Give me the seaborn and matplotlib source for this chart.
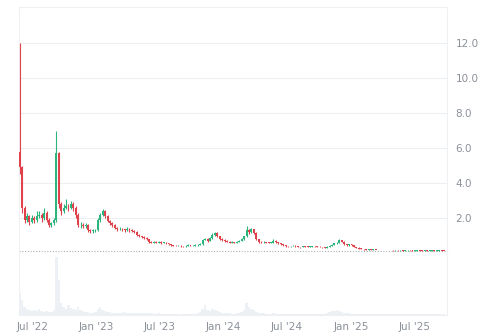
import numpy as np
import pandas as pd
import matplotlib
matplotlib.use("Agg")
import matplotlib.pyplot as plt
import matplotlib.dates as mdates
import seaborn as sns

# ---- data (weekly candles) ----
start_date = "2022-05-26"
first_open = 5.8
closes = [
    4.9, 2.6, 1.9, 2.1, 1.8, 2.0, 1.9, 2.1, 2.2, 2.0,
    2.3, 1.9, 1.6, 1.7, 1.9, 5.7, 2.8, 2.4, 2.6, 2.7,
    2.6, 2.8, 2.6, 2.2, 1.6, 1.6, 1.55, 1.6, 1.3, 1.25,
    1.3, 1.3, 1.9, 2.2, 2.4, 2.1, 1.85, 1.7, 1.6, 1.45,
    1.35, 1.4, 1.35, 1.3, 1.4, 1.3, 1.25, 1.2, 1.05, 0.95,
    0.9, 0.85, 0.8, 0.65, 0.6, 0.62, 0.6, 0.65, 0.58, 0.6,
    0.55, 0.5, 0.45, 0.42, 0.4, 0.42, 0.4, 0.38, 0.42, 0.45,
    0.4, 0.42, 0.45, 0.48, 0.5, 0.75, 0.8, 0.7, 0.85, 1.05,
    1.15, 0.95, 0.8, 0.75, 0.7, 0.65, 0.6, 0.62, 0.6, 0.65,
    0.7, 0.8, 0.95, 1.3, 1.2, 1.35, 1.15, 0.8, 0.65, 0.62,
    0.62, 0.6, 0.58, 0.6, 0.7, 0.62, 0.55, 0.5, 0.45, 0.4,
    0.38, 0.4, 0.42, 0.38, 0.35, 0.33, 0.38, 0.36, 0.35, 0.37,
    0.4, 0.38, 0.36, 0.34, 0.32, 0.3, 0.35, 0.42, 0.48, 0.55,
    0.6, 0.72, 0.65, 0.5, 0.45, 0.5, 0.45, 0.35, 0.3, 0.25,
    0.24, 0.22, 0.2, 0.2, 0.18, 0.19, 0.18, 0.17, 0.16, 0.17,
    0.18, 0.17, 0.16, 0.15, 0.16, 0.15, 0.15, 0.14, 0.15, 0.16,
    0.15, 0.14, 0.14, 0.15, 0.14, 0.13, 0.14, 0.13, 0.13, 0.14,
    0.13, 0.13, 0.14, 0.13, 0.12,
]
highs = [
    12.0, 5.0, 2.7, 2.3, 2.2, 2.2, 2.1, 2.4, 2.4, 2.3,
    2.6, 2.4, 2.0, 1.8, 2.0, 7.0, 5.8, 2.9, 2.8, 3.1,
    2.8, 3.0, 2.9, 2.7, 2.3, 1.75, 1.7, 1.7, 1.65, 1.4,
    1.4, 1.4, 2.0, 2.3, 2.5, 2.45, 2.15, 1.9, 1.75, 1.65,
    1.5, 1.5, 1.45, 1.4, 1.5, 1.45, 1.35, 1.3, 1.25, 1.1,
    1.0, 0.95, 0.9, 0.82, 0.7, 0.7, 0.68, 0.7, 0.68, 0.66,
    0.64, 0.58, 0.52, 0.48, 0.45, 0.46, 0.45, 0.43, 0.46, 0.5,
    0.47, 0.46, 0.5, 0.52, 0.56, 0.82, 0.88, 0.85, 0.9, 1.12,
    1.22, 1.18, 0.98, 0.84, 0.78, 0.73, 0.68, 0.67, 0.66, 0.7,
    0.75, 0.85, 1.0, 1.55, 1.4, 1.42, 1.4, 1.18, 0.82, 0.7,
    0.67, 0.66, 0.63, 0.64, 0.78, 0.72, 0.64, 0.57, 0.52, 0.47,
    0.42, 0.43, 0.46, 0.44, 0.4, 0.37, 0.41, 0.4, 0.38, 0.4,
    0.43, 0.42, 0.4, 0.38, 0.36, 0.34, 0.38, 0.46, 0.52, 0.6,
    0.65, 0.78, 0.75, 0.67, 0.53, 0.54, 0.52, 0.47, 0.37, 0.32,
    0.27, 0.26, 0.24, 0.22, 0.21, 0.21, 0.2, 0.19, 0.18, 0.19,
    0.2, 0.19, 0.18, 0.17, 0.18, 0.17, 0.17, 0.16, 0.17, 0.18,
    0.17, 0.16, 0.16, 0.17, 0.16, 0.15, 0.16, 0.15, 0.15, 0.16,
    0.15, 0.15, 0.16, 0.15, 0.14,
]
lows = [
    4.5, 2.3, 1.7, 1.8, 1.6, 1.7, 1.7, 1.8, 2.0, 1.8,
    1.9, 1.8, 1.5, 1.5, 1.6, 1.8, 2.6, 2.2, 2.3, 2.5,
    2.4, 2.5, 2.4, 2.0, 1.5, 1.45, 1.45, 1.45, 1.2, 1.15,
    1.15, 1.2, 1.25, 1.8, 2.1, 2.0, 1.75, 1.6, 1.5, 1.35,
    1.28, 1.3, 1.28, 1.22, 1.25, 1.22, 1.18, 1.12, 1.0, 0.9,
    0.85, 0.8, 0.75, 0.6, 0.56, 0.57, 0.56, 0.57, 0.54, 0.55,
    0.52, 0.47, 0.43, 0.4, 0.38, 0.38, 0.37, 0.36, 0.37, 0.41,
    0.38, 0.38, 0.4, 0.43, 0.46, 0.48, 0.72, 0.66, 0.68, 0.82,
    1.0, 0.9, 0.76, 0.7, 0.66, 0.62, 0.57, 0.58, 0.57, 0.58,
    0.63, 0.68, 0.77, 0.9, 1.1, 1.15, 1.1, 0.75, 0.6, 0.58,
    0.58, 0.56, 0.55, 0.56, 0.58, 0.58, 0.52, 0.47, 0.42, 0.37,
    0.35, 0.36, 0.38, 0.36, 0.33, 0.31, 0.32, 0.34, 0.33, 0.34,
    0.36, 0.36, 0.34, 0.32, 0.3, 0.28, 0.29, 0.34, 0.41, 0.47,
    0.53, 0.58, 0.62, 0.47, 0.42, 0.43, 0.42, 0.33, 0.28, 0.23,
    0.22, 0.2, 0.18, 0.18, 0.16, 0.17, 0.16, 0.15, 0.15, 0.15,
    0.16, 0.16, 0.15, 0.14, 0.14, 0.14, 0.14, 0.13, 0.13, 0.14,
    0.14, 0.13, 0.13, 0.13, 0.13, 0.12, 0.12, 0.12, 0.12, 0.12,
    0.12, 0.12, 0.12, 0.12, 0.11,
]
volumes = [
    22, 15, 8, 6, 5, 4, 5, 4, 6, 4,
    3, 4, 3, 3, 5, 58, 35, 12, 8, 6,
    10, 7, 6, 5, 8, 5, 4, 3, 3, 2.5,
    2.5, 3, 6, 8, 5, 4, 3, 3, 2.5, 2.5,
    2, 2, 2, 3, 2, 2, 2, 2, 2.5, 2,
    2, 2, 2.5, 2, 2, 1.5, 1.5, 2, 1.5, 1.5,
    1.5, 1.5, 1.5, 1.5, 1.5, 1.5, 1.5, 1.5, 1.5, 1.5,
    1.5, 1.5, 1.5, 2, 3, 6, 10, 5, 4, 6,
    5, 4, 3, 2, 2, 2, 2, 1.5, 1.5, 2,
    2, 3, 5, 12, 8, 6, 5, 3, 2, 2,
    2, 1.5, 1.5, 1.5, 2, 1.5, 1.5, 1.5, 1.5, 1.5,
    1.5, 1.5, 1.5, 1.5, 1.5, 1.5, 1.5, 1.5, 1.5, 1.5,
    1.5, 1.5, 1.5, 1.5, 1.5, 1.5, 2, 3, 4, 4,
    5, 4, 3, 2, 2, 2, 1.5, 1.5, 1.5, 1,
    1, 1, 1, 1, 1, 1, 1, 1, 1, 1,
    1, 1, 1, 1, 1, 1, 1, 1, 1, 1,
    1, 1, 1, 1, 1, 1, 1, 1, 1, 1,
    1, 1, 1, 1, 1,
]
price_ticks = [2.0, 4.0, 6.0, 8.0, 10.0, 12.0]
date_ticks = ["2022-07-01", "2023-01-01", "2023-07-01", "2024-01-01",
              "2024-07-01", "2025-01-01", "2025-07-01"]
date_tick_labels = ["Jul '22", "Jan '23", "Jul '23", "Jan '24",
                    "Jul '24", "Jan '25", "Jul '25"]

n = min(len(closes), len(highs), len(lows), len(volumes))
closes, highs, lows, volumes = closes[:n], highs[:n], lows[:n], volumes[:n]
opens = [first_open] + closes[:-1]
dates = pd.date_range(start_date, periods=n, freq="7D")
df = pd.DataFrame({"date": dates, "open": opens, "high": highs,
                   "low": lows, "close": closes, "volume": volumes})
df["dir"] = np.where(df["close"] >= df["open"], "up", "down")

# ---- style ----
sns.set_theme(style="white")
plt.rcParams["font.family"] = ["DejaVu Sans"]
GREEN = "#2bb47c"
RED = "#e0424c"
GRID = "#eceef1"
FRAME = "#eef0f3"
TXT = "#8b9099"

fig = plt.figure(figsize=(5.0, 3.33), dpi=100)
ax = fig.add_axes([0.038, 0.240, 0.856, 0.739])
axv = fig.add_axes([0.038, 0.054, 0.856, 0.186], sharex=ax)

xnum = mdates.date2num(df["date"])
colors = [GREEN if d == "up" else RED for d in df["dir"]]

# wicks
ax.vlines(xnum, df["low"], df["high"], colors=colors, linewidth=0.8, zorder=3)
# bodies
body_bottom = np.minimum(df["open"], df["close"])
body_height = np.maximum(np.abs(df["close"] - df["open"]), 0.03)
ax.bar(xnum, body_height, bottom=body_bottom, width=5.6, color=colors,
       linewidth=0, zorder=4)

# last price dotted line
ax.axhline(closes[-1], color="#a9aeb6", linestyle=(0, (1, 1.5)), linewidth=0.8,
           zorder=2)

# volume bars
axv.bar(xnum, df["volume"], width=7.0, color="#edf0f4", linewidth=0, zorder=2)

# ---- axes formatting ----
xmin = mdates.date2num(pd.Timestamp("2022-05-24"))
xmax = mdates.date2num(pd.Timestamp("2025-10-03"))
ax.set_xlim(xmin, xmax)
ax.set_ylim(0.0, 14.06)
axv.set_ylim(0, 62)

ax.yaxis.tick_right()
ax.set_yticks(price_ticks)
ax.set_yticklabels([f"{t:.1f}" for t in price_ticks])
ax.tick_params(axis="y", length=0, pad=6, labelsize=7.5, labelcolor=TXT)
ax.tick_params(axis="x", bottom=False, labelbottom=False)
ax.grid(axis="y", color=GRID, linewidth=0.8, zorder=0)
ax.set_axisbelow(True)

axv.set_yticks([])
axv.set_xticks(mdates.date2num(pd.to_datetime(date_ticks)))
axv.set_xticklabels(date_tick_labels)
axv.tick_params(axis="x", length=0, pad=5, labelsize=7.5, labelcolor=TXT)

for a in (ax, axv):
    a.set_facecolor("white")
    for s in a.spines.values():
        s.set_color(FRAME)
        s.set_linewidth(0.8)
ax.spines["bottom"].set_visible(False)
axv.spines["top"].set_visible(False)
ax.set_xlabel("")
ax.set_ylabel("")
axv.set_xlabel("")
axv.set_ylabel("")

fig.savefig("out.png", dpi=100, facecolor="white")
